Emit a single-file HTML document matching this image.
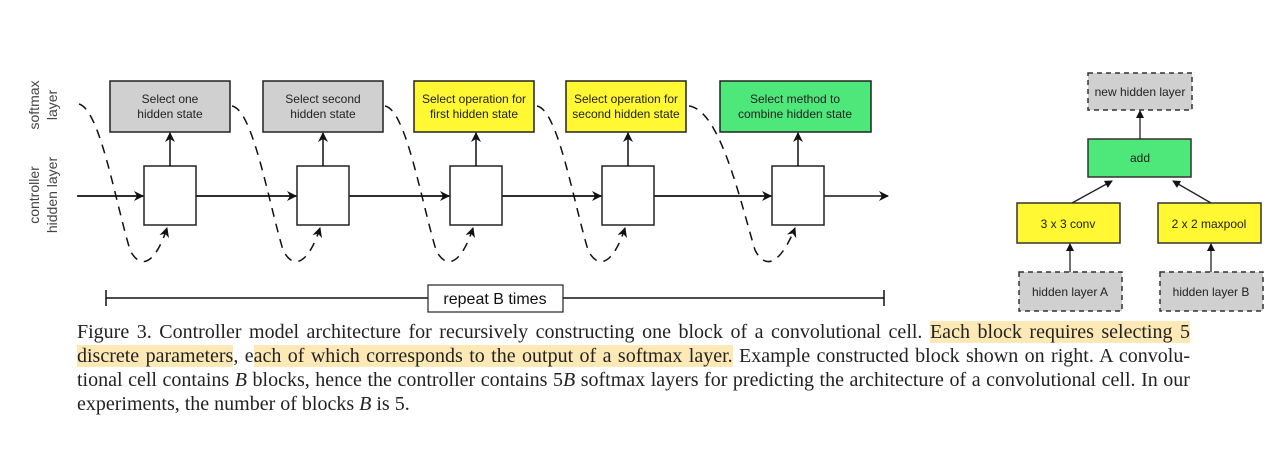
<!DOCTYPE html>
<html><head><meta charset="utf-8"><style>
body{margin:0;background:#fff;width:1267px;height:449px;overflow:hidden;position:relative}
.cap{position:absolute;left:77px;top:320px;width:1113px;font:20px/24px "Liberation Serif",serif;color:#222}
.cap div{text-align:justify;text-align-last:justify;white-space:nowrap}
.cap div.last{text-align-last:left}
.hl{background:rgba(252,215,120,0.55)}
i{font-style:italic}
</style></head><body>
<svg width="1267" height="320" style="position:absolute;left:0;top:0" font-family="Liberation Sans, sans-serif">
<defs><marker id="a" markerWidth="10" markerHeight="10" refX="9" refY="5" orient="auto" markerUnits="userSpaceOnUse"><path d="M0,0 L10,5 L0,10 L3,5z" fill="#111"/></marker>
<marker id="s" markerWidth="8" markerHeight="8" refX="7" refY="4" orient="auto" markerUnits="userSpaceOnUse"><path d="M0,0 L8,4 L0,8z" fill="#111"/></marker></defs>
<g font-size="14" fill="#444" text-anchor="middle">
<text transform="translate(39,105) rotate(-90)">softmax</text>
<text transform="translate(57,105) rotate(-90)">layer</text>
<text transform="translate(39,195) rotate(-90)">controller</text>
<text transform="translate(57,195) rotate(-90)">hidden layer</text>
</g>
<line x1="77" y1="196" x2="888" y2="196" stroke="#111" stroke-width="1.5" marker-end="url(#a)"/>
<g stroke="#111" stroke-width="1.5">
<line x1="196" y1="196" x2="296" y2="196" marker-end="url(#a)"/>
<line x1="77" y1="196" x2="143" y2="196" marker-end="url(#a)"/>
<line x1="349" y1="196" x2="449" y2="196" marker-end="url(#a)"/>
<line x1="502" y1="196" x2="601" y2="196" marker-end="url(#a)"/>
<line x1="654" y1="196" x2="771" y2="196" marker-end="url(#a)"/>
</g>
<g stroke="#222" stroke-width="1.5">
<rect x="110" y="81" width="120" height="51" fill="#d0d0d0"/>
<rect x="263" y="81" width="120" height="51" fill="#d0d0d0"/>
<rect x="414" y="81" width="120" height="51" fill="#fff833"/>
<rect x="566" y="81" width="120" height="51" fill="#fff833"/>
<rect x="720" y="81" width="151" height="51" fill="#4ee87a"/>
<rect x="144" y="166" width="52" height="59" fill="#fff"/>
<rect x="297" y="166" width="52" height="59" fill="#fff"/>
<rect x="450" y="166" width="52" height="59" fill="#fff"/>
<rect x="602" y="166" width="52" height="59" fill="#fff"/>
<rect x="772" y="166" width="52" height="59" fill="#fff"/>
</g>
<g stroke="#111" stroke-width="1.5">
<line x1="170" y1="166" x2="170" y2="133" marker-end="url(#a)"/>
<line x1="323" y1="166" x2="323" y2="133" marker-end="url(#a)"/>
<line x1="476" y1="166" x2="476" y2="133" marker-end="url(#a)"/>
<line x1="628" y1="166" x2="628" y2="133" marker-end="url(#a)"/>
<line x1="798" y1="166" x2="798" y2="133" marker-end="url(#a)"/>
</g>
<g fill="none" stroke="#111" stroke-width="1.5" stroke-dasharray="9,7">
<path d="M79,104 C100,110 115,200 130,250 C140,270 155,265 167,228" marker-end="url(#a)"/>
<path d="M232,106 C253,110 268,200 283,250 C293,270 308,265 320,228" marker-end="url(#a)"/>
<path d="M385,106 C406,110 421,200 436,250 C446,270 461,265 473,228" marker-end="url(#a)"/>
<path d="M537,106 C558,110 573,200 588,250 C598,270 613,265 625,228" marker-end="url(#a)"/>
<path d="M689,106 C720,110 740,200 755,250 C765,270 780,265 795,228" marker-end="url(#a)"/>
</g>
<g font-size="12" fill="#222" text-anchor="middle">
<text x="170" y="103">Select one</text><text x="170" y="118">hidden state</text>
<text x="323" y="103">Select second</text><text x="323" y="118">hidden state</text>
<text x="474" y="103">Select operation for</text><text x="474" y="118">first hidden state</text>
<text x="626" y="103">Select operation for</text><text x="626" y="118">second hidden state</text>
<text x="795" y="103">Select method to</text><text x="795" y="118">combine hidden state</text>
</g>
<g stroke="#111" stroke-width="1.5">
<line x1="106" y1="298" x2="884" y2="298"/>
<line x1="106" y1="290" x2="106" y2="306"/>
<line x1="884" y1="290" x2="884" y2="306"/>
</g>
<rect x="428" y="285" width="135" height="27" fill="#fff" stroke="#222" stroke-width="1.2"/>
<text x="495" y="304" font-size="16" text-anchor="middle" fill="#111">repeat B times</text>
<g stroke="#333" stroke-width="1.5">
<rect x="1088" y="73" width="104" height="37" fill="#d0d0d0" stroke-dasharray="5,4"/>
<rect x="1088" y="139" width="103" height="38" fill="#4ee87a"/>
<rect x="1017" y="203" width="103" height="40" fill="#fff833"/>
<rect x="1158" y="203" width="103" height="40" fill="#fff833"/>
<rect x="1019" y="272" width="103" height="39" fill="#d0d0d0" stroke-dasharray="5,4"/>
<rect x="1160" y="272" width="103" height="39" fill="#d0d0d0" stroke-dasharray="5,4"/>
</g>
<g stroke="#222" stroke-width="1.3">
<line x1="1140" y1="139" x2="1140" y2="111" marker-end="url(#s)"/>
<line x1="1072" y1="203" x2="1112" y2="181" marker-end="url(#s)"/>
<line x1="1211" y1="203" x2="1173" y2="181" marker-end="url(#s)"/>
<line x1="1070" y1="272" x2="1070" y2="244" marker-end="url(#s)"/>
<line x1="1211" y1="272" x2="1211" y2="244" marker-end="url(#s)"/>
</g>
<g font-size="12" fill="#222" text-anchor="middle">
<text x="1140" y="96">new hidden layer</text>
<text x="1140" y="162">add</text>
<text x="1068" y="228">3 x 3 conv</text>
<text x="1209" y="228">2 x 2 maxpool</text>
<text x="1070" y="296">hidden layer A</text>
<text x="1211" y="296">hidden layer B</text>
</g>
</svg>
<div class="cap">
<div>Figure 3. Controller model architecture for recursively constructing one block of a convolutional cell. <span class="hl">Each block requires selecting 5</span></div>
<div><span class="hl">discrete parameters</span>, e<span class="hl">ach of which corresponds to the output of a softmax layer.</span> Example constructed block shown on right. A convolu-</div>
<div>tional cell contains <i>B</i> blocks, hence the controller contains 5<i>B</i> softmax layers for predicting the architecture of a convolutional cell. In our</div>
<div class="last">experiments, the number of blocks <i>B</i> is 5.</div>
</div>
</body></html>
